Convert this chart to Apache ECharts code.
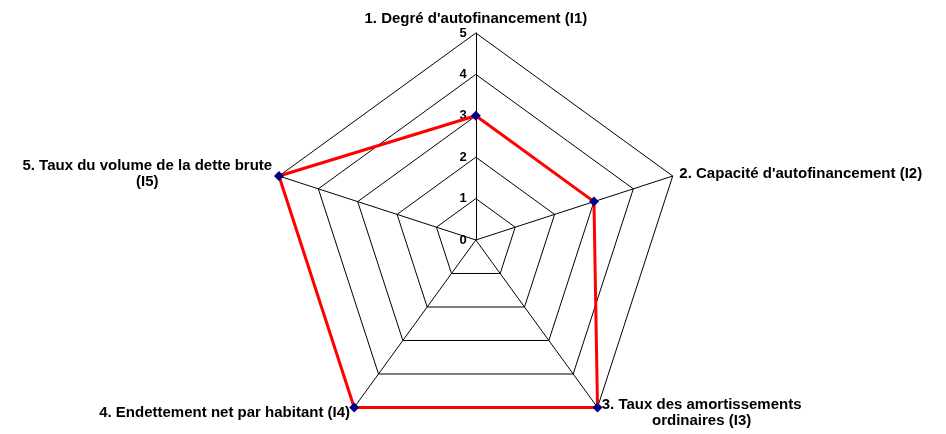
<!DOCTYPE html>
<html>
<head>
<meta charset="utf-8">
<script src="https://cdn.jsdelivr.net/npm/echarts@6/dist/echarts.min.js"></script>
<style>
  html, body { margin: 0; padding: 0; background: #fff; }
  #chart { width: 946px; height: 434px; }
</style>
</head>
<body>
<div id="chart"></div>
<script>
// indicateurs et valeurs (ordre du graphique, sens horaire)
const indicatorNames = [
  "1. Degré d'autofinancement (I1)",
  "2. Capacité d'autofinancement (I2)",
  "3. Taux des amortissements\nordinaires (I3)",
  "4. Endettement net par habitant (I4)",
  "5. Taux du volume de la dette brute\n(I5)"
];
const scores = [3, 3, 5, 5, 5];
const scaleMax = 5;

// echarts dessine le radar dans le sens anti-horaire : on garde I1 en haut et on inverse le reste
const order = [0].concat(indicatorNames.slice(1).map((_, i) => indicatorNames.length - 1 - i));

const fontFamily = 'Liberation Sans, Arial, sans-serif';
const nameSize = 15;
const textFont = { fontFamily: fontFamily, fontSize: nameSize, fontWeight: 'bold', color: '#000' };

// largeur de la plus longue ligne, pour centrer les étiquettes sur deux lignes
const ctx = document.createElement('canvas').getContext('2d');
ctx.font = 'bold ' + nameSize + 'px ' + fontFamily;
const rich = {};
const nameFmt = {};
indicatorNames.forEach((name, i) => {
  const lines = name.split('\n');
  if (lines.length === 1) { nameFmt[name] = name; return; }
  const w = Math.ceil(Math.max.apply(null, lines.map(l => ctx.measureText(l).width)));
  rich['n' + i] = Object.assign({}, textFont, { align: 'center', width: w, lineHeight: 16 });
  nameFmt[name] = lines.map(l => '{n' + i + '|' + l + '}').join('\n');
});

const chart = echarts.init(document.getElementById('chart'));

const option = {
  animation: false,
  backgroundColor: '#fff',
  radar: {
    center: ['50.3%', '55.3%'],
    radius: 207,
    startAngle: 90,
    shape: 'polygon',
    splitNumber: 5,
    nameGap: 7,
    axisName: Object.assign({}, textFont, {
      formatter: name => nameFmt[name],
      rich: rich
    }),
    axisLine: { lineStyle: { color: '#000', width: 1 } },
    splitLine: { lineStyle: { color: '#000', width: 1 } },
    splitArea: { show: false },
    axisTick: { show: false },
    axisLabel: { show: false },
    indicator: order.map((k, i) => {
      const ind = { name: indicatorNames[k], min: 0, max: scaleMax };
      if (i === 0) {
        ind.axisLabel = { show: true, showMinLabel: true, showMaxLabel: true, margin: 9,
          fontFamily: fontFamily, fontSize: 13, fontWeight: 'bold', color: '#000' };
      }
      return ind;
    })
  },
  series: [{
    type: 'radar',
    symbol: 'diamond',
    symbolSize: 10,
    lineStyle: { color: '#ff0000', width: 3 },
    itemStyle: { color: '#000080' },
    data: [{ value: order.map(k => scores[k]) }]
  }]
};

chart.setOption(option);
</script>
</body>
</html>
